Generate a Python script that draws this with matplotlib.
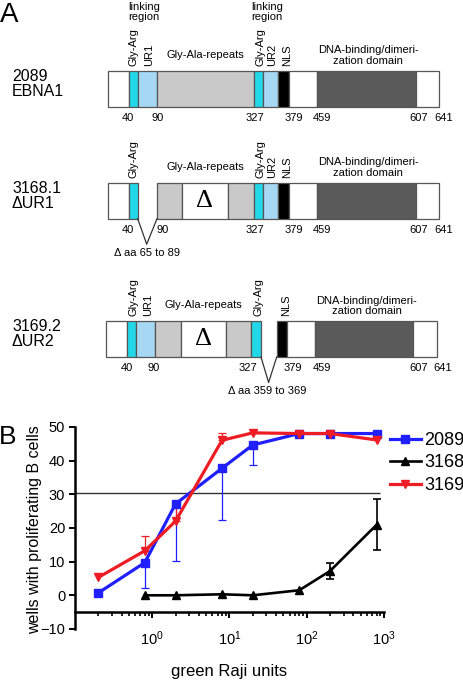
import numpy as np
import matplotlib
matplotlib.use("Agg")
import matplotlib.pyplot as plt
from matplotlib.patches import Rectangle
from matplotlib.ticker import LogLocator, NullFormatter

plt.rcParams['font.family'] = ['Liberation Sans', 'DejaVu Sans']

# ---------------- Panel B data ----------------
x_2089 = [0.2, 0.8, 2, 8, 20, 80, 200, 800]
y_2089 = [0.7, 9.7, 27.1, 37.7, 44.6, 48, 48, 48]
err_2089_low = [0, 7.5, 16.9, 15.4, 5.8, 0, 0, 0]

x_3168 = [0.8, 2, 8, 20, 80, 200, 800]
y_3168 = [0, 0, 0.3, 0, 1.5, 7.2, 20.9]
err_3168 = [0, 0, 0, 0, 0, 2.4, 7.6]

x_3169 = [0.2, 0.8, 2, 8, 20, 80, 200, 800]
y_3169 = [5.3, 13.2, 22.0, 46.0, 48.2, 48, 48, 46.1]
err_3169_up = [0, 4.3, 4.1, 2.1, 0, 0, 0, 0]

threshold = 30.5
y_ticks = [-10, 0, 10, 20, 30, 40, 50]
x_ticks = [1, 10, 100, 1000]
series_names = ["2089", "3168", "3169"]

# ---------------- Panel A data ----------------
row_names = ["2089\nEBNA1", "3168.1\n\u0394UR1", "3169.2\n\u0394UR2"]
aa_numbers = ["40", "90", "327", "379", "459", "607", "641"]
deletion_notes = [None, "\u0394 aa 65 to 89", "\u0394 aa 359 to 369"]

W, H = 464, 683
fig = plt.figure(figsize=(W / 100, H / 100), dpi=100)
axA = fig.add_axes([0, 0, 1, 1])
axA.set_xlim(0, W)
axA.set_ylim(H, 0)
axA.axis('off')

C_WHITE = 'white'
C_CYAN = '#22d8e8'
C_LB = '#a6d8f4'
C_GRAY = '#c9c9c9'
C_DARK = '#5a5a5a'
C_BLACK = 'black'
EDGE = '#555555'

# segment layouts (left, right, color) in diagram pixels
seg_full = [(108.3, 128.7, C_WHITE), (128.7, 137.7, C_CYAN), (137.7, 157, C_LB),
            (157, 253.7, C_GRAY), (253.7, 263.3, C_CYAN), (263.3, 278, C_LB),
            (278, 289, C_BLACK), (289, 317.3, C_WHITE), (317.3, 415.7, C_DARK),
            (415.7, 439.3, C_WHITE)]
seg_dur1 = [(108.3, 128.7, C_WHITE), (128.7, 137.7, C_CYAN),
            (157, 182.3, C_GRAY), (182.3, 228, C_WHITE), (228, 253.7, C_GRAY),
            (253.7, 263.3, C_CYAN), (263.3, 278, C_LB),
            (278, 289, C_BLACK), (289, 317.3, C_WHITE), (317.3, 415.7, C_DARK),
            (415.7, 439.3, C_WHITE)]
seg_dur2 = [(106, 126.7, C_WHITE), (126.7, 135.7, C_CYAN), (135.7, 155.3, C_LB),
            (155.3, 180.7, C_GRAY), (180.7, 226, C_WHITE), (226, 251.3, C_GRAY),
            (251.3, 261, C_CYAN),
            (276.7, 287, C_BLACK), (287, 315, C_WHITE), (315, 413.3, C_DARK),
            (413.3, 437.3, C_WHITE)]
row_segments = [seg_full, seg_dur1, seg_dur2]
bar_tops = [70.7, 182.7, 321]
bar_h = 36
num_x = [[127.5, 157.5, 255, 294, 321.7, 419, 444],
         [127.5, 162.5, 255, 294, 321.7, 419, 444],
         [126.7, 154, 248.3, 293.3, 321.7, 418.3, 442.3]]
# rotated labels per row: (x, text)
rot_labels = [[(134, "Gly-Arg"), (149, "UR1"), (261, "Gly-Arg"), (271.7, "UR2"), (286.7, "NLS")],
              [(134, "Gly-Arg"), (261, "Gly-Arg"), (271.7, "UR2"), (286.7, "NLS")],
              [(133.3, "Gly-Arg"), (148.3, "UR1"), (258.3, "Gly-Arg"), (286, "NLS")]]
gly_ala_x = [205.5, 205, 203.3]
dna_x = [368.3, 368.3, 366.7]
delta_x = [None, 205, 203.3]
gap_info = [None, (137.7, 157, 146.7), (261, 276.7, 268.6)]
note_pos = [None, (146.7, 253.3), (266.7, 390.7)]

FS = 8
for i in range(3):
    top = bar_tops[i]
    bot = top + bar_h
    for (l, r, c) in row_segments[i]:
        axA.add_patch(Rectangle((l, top), r - l, bar_h, facecolor=c,
                                edgecolor=EDGE, lw=0.9))
    n1, n2 = row_names[i].split("\n")
    axA.text(12, top + 5.5, n1, fontsize=11.5, ha='left', va='center')
    axA.text(12, top + 20.5, n2, fontsize=11.5, ha='left', va='center')
    for xx, lab in zip(num_x[i], aa_numbers):
        axA.text(xx, bot + 11, lab, fontsize=FS, ha='center', va='center')
    for xx, lab in rot_labels[i]:
        axA.text(xx, top - 5, lab, fontsize=FS, rotation=90, ha='center', va='bottom')
    axA.text(gly_ala_x[i], top - 15.5, "Gly-Ala-repeats", fontsize=FS, ha='center', va='center')
    axA.text(dna_x[i], top - 20.5, "DNA-binding/dimeri-", fontsize=FS, ha='center', va='center')
    axA.text(dna_x[i], top - 9.8, "zation domain", fontsize=FS, ha='center', va='center')
    if delta_x[i] is not None:
        axA.text(delta_x[i], top + bar_h / 2, "\u0394", fontsize=19, ha='center', va='center',
                 family=['Liberation Serif', 'DejaVu Serif'])
    if gap_info[i] is not None:
        gl, gr, tip = gap_info[i]
        axA.plot([gl, tip, gr], [bot, bot + 25.5, bot], color='#333333', lw=0.9)
        nx, ny = note_pos[i]
        axA.text(nx, ny, deletion_notes[i], fontsize=FS, ha='center', va='center')

# linking region labels (row 1)
for xx in (143.7, 266.7):
    axA.text(xx, 7.3, "linking", fontsize=FS, ha='center', va='center')
    axA.text(xx, 17.3, "region", fontsize=FS, ha='center', va='center')

axA.text(9.5, 14.5, "A", fontsize=20, ha='center', va='center')
axA.text(7.5, 437.5, "B", fontsize=19, ha='center', va='center')

# ---------------- Panel B ----------------
left_px, right_px, top_px, bot_px = 75, 384, 426.8, 629
ax = fig.add_axes([left_px / W, (H - bot_px) / H, (right_px - left_px) / W, (bot_px - top_px) / H])
ax.set_xscale('log')
ax.set_xlim(0.1, 1000)
ax.set_ylim(-10, 50)
ax.patch.set_alpha(0)

BLUE = '#1f1fff'
RED = '#ee1c24'

ax.hlines(threshold, 0.1, 900, color='#333333', lw=1.0, zorder=1)

ax.plot(x_2089, y_2089, '-s', color=BLUE, lw=2.3, ms=6.2, clip_on=False, zorder=3, label=series_names[0])
xb = np.array(x_2089); yb = np.array(y_2089); eb = np.array(err_2089_low)
m = eb > 0
ax.errorbar(xb[m], yb[m], yerr=[eb[m], np.zeros(m.sum())], fmt='none', ecolor=BLUE,
            elinewidth=0.9, capsize=3, capthick=0.9, zorder=2)

ax.plot(x_3168, y_3168, '-^', color='black', lw=1.9, ms=6, clip_on=False, zorder=3, label=series_names[1])
xk = np.array(x_3168); yk = np.array(y_3168); ek = np.array(err_3168)
m = ek > 0
ax.errorbar(xk[m], yk[m], yerr=ek[m], fmt='none', ecolor='black',
            elinewidth=1.2, capsize=3, capthick=1.2, zorder=2)

ax.plot(x_3169, y_3169, '-v', color=RED, lw=2.3, ms=6, clip_on=False, zorder=4, label=series_names[2])
xr = np.array(x_3169); yr = np.array(y_3169); er = np.array(err_3169_up)
m = er > 0
ax.errorbar(xr[m], yr[m], yerr=[np.zeros(m.sum()), er[m]], fmt='none', ecolor=RED,
            elinewidth=0.9, capsize=3, capthick=0.9, zorder=2)

for s in ('top', 'right'):
    ax.spines[s].set_visible(False)
ax.spines['bottom'].set_position(('data', -5))
ax.spines['left'].set_linewidth(1.8)
ax.spines['bottom'].set_linewidth(1.8)
ax.set_yticks(y_ticks)
ax.set_xticks(x_ticks)
ax.xaxis.set_minor_locator(LogLocator(base=10, subs=np.arange(2, 10), numticks=20))
ax.xaxis.set_minor_formatter(NullFormatter())
ax.tick_params(axis='y', which='major', length=4.5, width=1.4, labelsize=10.5, pad=2.5)
ax.tick_params(axis='x', which='major', length=4.5, width=1.4, labelsize=10.5, pad=8)
ax.tick_params(axis='x', which='minor', length=2.7, width=1.2)

ax.set_ylabel("wells with proliferating B cells", fontsize=11.5)
ax.yaxis.set_label_coords(-0.108, 0.49)
ax.set_xlabel("green Raji units", fontsize=12)
ax.xaxis.set_label_coords(0.5, -0.175)

leg = ax.legend(loc='upper left', bbox_to_anchor=(390 / W, 1 - 432 / H), bbox_transform=fig.transFigure,
                frameon=False, fontsize=13, handlelength=1.7, handletextpad=0.2,
                labelspacing=0.3, borderpad=0, borderaxespad=0)

fig.savefig("out.png", dpi=100)
